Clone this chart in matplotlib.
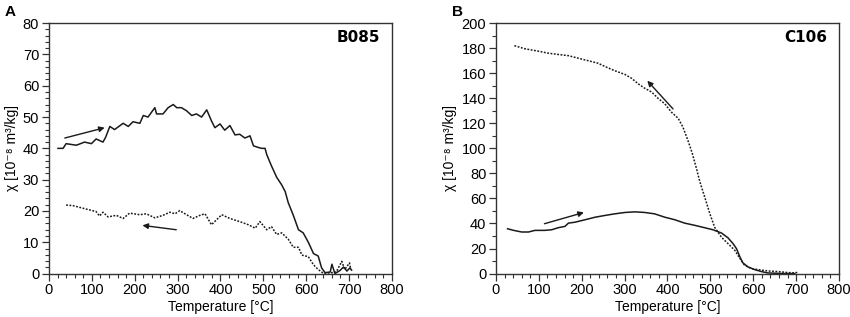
import matplotlib.pyplot as plt
from matplotlib.ticker import MultipleLocator

plt.rcParams["font.family"] = ["Liberation Sans", "DejaVu Sans"]
plt.rcParams["font.size"] = 9.5

# Panel A (B085) heating curve
a_heat_t = [21, 33, 40, 64, 83, 99, 110, 126, 132, 142, 153, 173, 185, 196, 212,
            220, 231, 247, 251, 266, 278, 290, 298, 309, 321, 333, 344, 356, 368,
            379, 387, 399, 410, 422, 434, 445, 457, 469, 477, 488, 496, 504, 508,
            519, 531, 543, 551, 558, 570, 582, 593, 605, 617, 628, 636, 644, 656,
            660, 667, 679, 687, 695, 702, 706]
a_heat_x = [40, 40, 41.5, 41, 42, 41.5, 43, 42, 43.5, 47, 46, 48, 47, 48.5, 48,
            50.5, 50, 53, 51, 51, 53, 54, 53, 53, 52, 50.5, 51, 50, 52.3,
            48.8, 46.6, 47.8, 45.8, 47.3, 44.3, 44.5, 43.3, 44, 40.8, 40.3, 40, 40, 38,
            34.4, 30.8, 28.3, 26.2, 22.7, 18.6, 14, 13, 10, 6.4, 5.6, 1.8, 0.3, 0.5,
            3, 0, 1, 2.1, 0.8, 1.8, 1.1]

# Panel A (B085) cooling curve
a_cool_t = [40, 56, 87, 110, 118, 126, 138, 157, 173, 188, 212, 227, 247, 266,
            282, 294, 305, 321, 336, 352, 364, 379, 403, 422, 445, 465, 481, 492,
            508, 519, 531, 543, 558, 570, 582, 590, 605, 617, 628, 640, 655, 670,
            683, 690, 701, 704]
a_cool_x = [21.9, 21.7, 20.6, 19.8, 18.4, 19.6, 18.1, 18.6, 17.6, 19.3, 18.8, 19.1,
            17.8, 18.6, 19.6, 19.1, 20.1, 18.8, 17.6, 18.6, 19.1, 15.6, 18.8, 17.6,
            16.6, 15.6, 14.5, 16.6, 14, 15, 12.5, 13, 11, 8.4, 8.4, 5.9, 5.4, 2.8,
            1.3, 0.1, 0.2, 0.5, 3.9, 1.3, 3.4, 1.3]

# Panel B (C106) heating curve
b_heat_t = [27, 41, 60, 76, 91, 114, 130, 145, 161, 169, 184, 208, 231, 254, 277,
            301, 324, 347, 370, 394, 417, 440, 464, 487, 506, 526, 541, 553, 561,
            569, 576, 588, 603, 619, 634, 650, 673, 697]
b_heat_x = [35.8, 34.5, 33.2, 33.2, 34.5, 34.5, 35, 36.6, 37.7, 40.3, 41, 43, 45,
            46.4, 47.7, 48.8, 49.3, 48.8, 47.7, 45, 43, 40.3, 38.5, 36.6, 35, 32.4,
            28.6, 23.9, 19.9, 13.3, 8.5, 5.3, 3.2, 1.6, 0.5, 0.3, 0, 0]

# Panel B (C106) cooling curve
b_cool_t = [43, 68, 99, 122, 145, 169, 192, 215, 238, 258, 277, 301, 316, 332,
            347, 363, 378, 394, 409, 425, 436, 447, 457, 466, 475, 487, 499, 510,
            526, 541, 557, 569, 580, 596, 611, 634, 658, 681, 697, 703]
b_cool_x = [182, 179.5, 177.6, 176, 175, 174, 172, 170, 168, 164.8, 162, 159, 156,
            151.5, 148, 145, 140, 135.5, 129, 124, 117, 107, 97, 86, 74, 61, 47.7,
            37, 29, 24, 18.6, 12, 6.6, 4, 3.2, 2.1, 1.6, 0.8, 0.5, 1]

panels = [
    {"letter": "A", "name": "B085", "ymax": 80, "ymajor": 10, "yminor": 2,
     "heat": (a_heat_t, a_heat_x), "cool": (a_cool_t, a_cool_x),
     "arrow_heat": ((37, 43.3), (130, 46.6)),
     "arrow_cool": ((297, 14.0), (218, 15.4)),
     "pos": [0.0576, 0.137, 0.4035, 0.79]},
    {"letter": "B", "name": "C106", "ymax": 200, "ymajor": 20, "yminor": 10,
     "heat": (b_heat_t, b_heat_x), "cool": (b_cool_t, b_cool_x),
     "arrow_heat": ((113, 39.8), (205, 48.8)),
     "arrow_cool": ((413, 131.5), (353, 154)),
     "pos": [0.5835, 0.137, 0.4035, 0.79]},
]

fig = plt.figure(figsize=(8.5, 3.17), dpi=100)
for p in panels:
    ax = fig.add_axes(p["pos"])
    ax.plot(*p["heat"], color="#1a1a1a", lw=1.1)
    ax.plot(*p["cool"], color="#1a1a1a", lw=1.1, ls=(0, (1.2, 1.0)))
    for key in ("arrow_heat", "arrow_cool"):
        start, end = p[key]
        ax.annotate("", xy=end, xytext=start,
                    arrowprops=dict(arrowstyle="-|>", lw=1.0, color="#1a1a1a",
                                    mutation_scale=8, shrinkA=0, shrinkB=0))
    ax.set_xlim(0, 800)
    ax.set_ylim(0, p["ymax"])
    ax.xaxis.set_major_locator(MultipleLocator(100))
    ax.xaxis.set_minor_locator(MultipleLocator(20))
    ax.yaxis.set_major_locator(MultipleLocator(p["ymajor"]))
    ax.yaxis.set_minor_locator(MultipleLocator(p["yminor"]))
    ax.tick_params(which="major", direction="out", length=5, width=0.9,
                   color="#333333", labelsize=10.5, pad=2)
    ax.tick_params(which="minor", direction="out", length=3, width=0.8,
                   color="#333333")
    for s in ax.spines.values():
        s.set_color("#333333")
        s.set_linewidth(1.0)
    ax.set_xlabel("Temperature [°C]", fontsize=10, labelpad=2)
    ax.set_ylabel("χ [10⁻⁸ m³/kg]", fontsize=10, labelpad=3)
    ax.text(0.965, 0.944, p["name"], transform=ax.transAxes, ha="right",
            va="center", fontsize=11, fontweight="bold", family="DejaVu Sans")
    fig.text(p["pos"][0] - 0.052, 0.985, p["letter"], ha="left", va="top",
             fontsize=11, fontweight="bold")

fig.savefig("out.png", dpi=100)
